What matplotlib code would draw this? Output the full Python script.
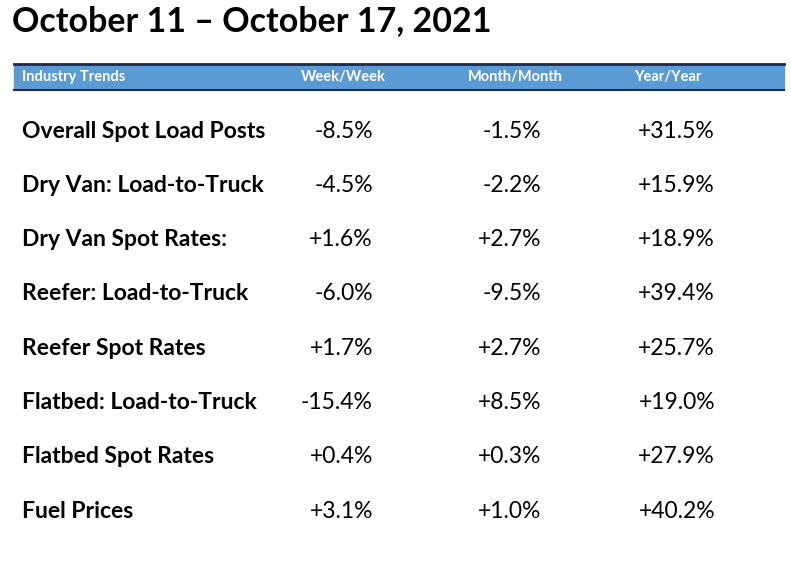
import matplotlib.pyplot as plt
from matplotlib.patches import Rectangle

title = "October 11 \u2013 October 17, 2021"
headers = ["Industry Trends", "Week/Week", "Month/Month", "Year/Year"]
rows = ["Overall Spot Load Posts", "Dry Van: Load-to-Truck", "Dry Van Spot Rates:",
        "Reefer: Load-to-Truck", "Reefer Spot Rates", "Flatbed: Load-to-Truck",
        "Flatbed Spot Rates", "Fuel Prices"]
week = ["-8.5%", "-4.5%", "+1.6%", "-6.0%", "+1.7%", "-15.4%", "+0.4%", "+3.1%"]
month = ["-1.5%", "-2.2%", "+2.7%", "-9.5%", "+2.7%", "+8.5%", "+0.3%", "+1.0%"]
year = ["+31.5%", "+15.9%", "+18.9%", "+39.4%", "+25.7%", "+19.0%", "+27.9%", "+40.2%"]

W, H = 791, 563
fig = plt.figure(figsize=(W / 100, H / 100), dpi=100)
ax = fig.add_axes([0, 0, 1, 1])
ax.set_xlim(0, W)
ax.set_ylim(H, 0)
ax.axis("off")
font = "Lato"

ax.text(12, 21, title, fontsize=24.5, fontweight="bold", family=font, va="center", ha="left")

ax.add_patch(Rectangle((14, 65), 770, 24, color="#5B9BD5"))
ax.plot([14, 784], [64, 64], color="#1F2A44", lw=2)
ax.plot([14, 784], [89.5, 89.5], color="#1F2A44", lw=1.5)
hx = [22, 301, 468, 634]
for x, h in zip(hx, headers):
    ax.text(x, 77, h, fontsize=10.5, fontweight="bold", color="white", family=font, va="center")

for i, r in enumerate(rows):
    y = 131 + i * 54.3
    ax.text(22, y, r, fontsize=16.5, fontweight="bold", family=font, va="center")
    ax.text(373, y, week[i], fontsize=16.5, family=font, va="center", ha="right")
    ax.text(541, y, month[i], fontsize=16.5, family=font, va="center", ha="right")
    ax.text(715, y, year[i], fontsize=16.5, family=font, va="center", ha="right")

fig.savefig("out.png", dpi=100)
